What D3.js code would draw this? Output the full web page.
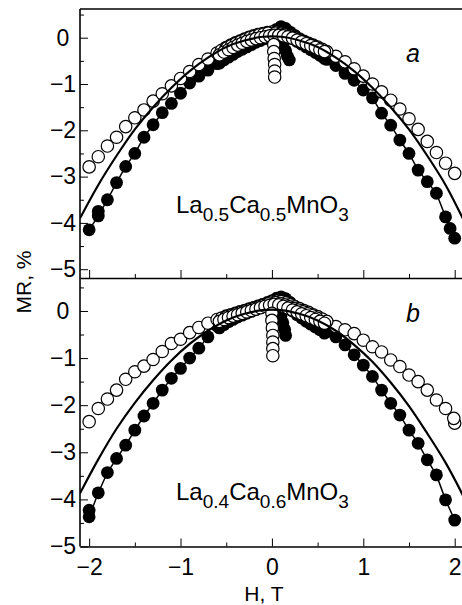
<html>
<head>
<meta charset="utf-8">
<title>MR(H)</title>
<script src="https://cdn.jsdelivr.net/npm/d3@7"></script>
<style>
  body { margin: 0; background: #fff; }
  text { font-family: "Liberation Sans", Arial, sans-serif; }
</style>
</head>
<body>
<script>
// field values, T
const hLeft = [-2.0, -1.9, -1.8, -1.7, -1.6, -1.5, -1.4, -1.3, -1.2, -1.1, -1.0, -0.9, -0.8, -0.7];
const hRight = [0.7, 0.8, 0.9, 1.0, 1.1, 1.2, 1.3, 1.4, 1.5, 1.6, 1.7, 1.8, 1.9, 2.0];
const hInner1 = [-0.6, -0.55, -0.5, -0.45, -0.4, -0.35, -0.3, -0.25, -0.2, -0.15, -0.1, -0.05, 0,
                 0.05, 0.1, 0.15, 0.2, 0.25, 0.3, 0.35, 0.4, 0.45, 0.5, 0.55, 0.6];
const hInner2 = [-0.575, -0.525, -0.475, -0.425, -0.375, -0.325, -0.275, -0.225, -0.175, -0.125, -0.075, -0.025,
                 0.025, 0.075, 0.125, 0.175, 0.225, 0.275, 0.325, 0.375, 0.425, 0.475, 0.525, 0.575];
const hInner3 = [-0.49, -0.44, -0.39, -0.34, -0.29, -0.24, -0.19, -0.14, -0.09, -0.04,
                 0.04, 0.09, 0.14, 0.19, 0.24, 0.29, 0.34, 0.39, 0.44, 0.49];
const hFit = [-2.1, -1.9, -1.7, -1.5, -1.3, -1.1, -0.9, -0.7, -0.5, -0.3, -0.1,
              0.1, 0.3, 0.5, 0.7, 0.9, 1.1, 1.3, 1.5, 1.7, 1.9, 2.1];

// tick labels
const xMajor = [-2, -1, 0, 1, 2];
const xMinor = [-1.5, -0.5, 0.5, 1.5];
const yMajor = [0, -1, -2, -3, -4, -5];
const yMinor = [0.5, -0.5, -1.5, -2.5, -3.5, -4.5];

// panel a, MR %
const aOpenLeft = [-2.79, -2.57, -2.34, -2.15, -1.92, -1.73, -1.56, -1.37, -1.21, -1.04, -0.88, -0.73, -0.58, -0.46];
const aOpenRight = [-0.40, -0.52, -0.67, -0.83, -1.00, -1.17, -1.35, -1.54, -1.75, -1.98, -2.24, -2.48, -2.71, -2.93];
const aOpenInner1 = [-0.33, -0.27, -0.21, -0.16, -0.11, -0.07, -0.03, 0.01, 0.04, 0.07, 0.09, 0.11, 0.12,
                     0.12, 0.10, 0.07, 0.04, 0.0, -0.04, -0.08, -0.12, -0.16, -0.20, -0.25, -0.30];
const aOpenInner2 = [-0.37, -0.31, -0.26, -0.21, -0.16, -0.12, -0.08, -0.05, -0.02, 0.0, 0.02, 0.04,
                     0.05, 0.05, 0.04, 0.02, -0.01, -0.05, -0.09, -0.13, -0.17, -0.21, -0.26, -0.30];
const aOpenInner3 = [-0.22, -0.17, -0.12, -0.08, -0.04, 0.0, 0.03, 0.06, 0.08, 0.10,
                     0.10, 0.08, 0.06, 0.02, -0.02, -0.05, -0.09, -0.13, -0.17, -0.22];
const aOpenDipH = [0.02, 0.02, 0.025, 0.03, 0.03, 0.03];
const aOpenDip = [-0.15, -0.30, -0.45, -0.58, -0.72, -0.85];
const aFullLeft = [-4.15, -3.85, -3.50, -3.13, -2.78, -2.50, -2.15, -1.88, -1.62, -1.42, -1.20, -0.98, -0.83, -0.70];
const aFullRight = [-0.60, -0.77, -0.92, -1.13, -1.30, -1.63, -1.89, -2.21, -2.50, -2.86, -3.11, -3.36, -3.87, -4.33];
const aFullInner1 = [-0.56, -0.49, -0.42, -0.36, -0.30, -0.24, -0.18, -0.13, -0.08, -0.03, 0.02, 0.07, 0.12,
                     0.18, 0.24, 0.20, 0.12, 0.05, -0.02, -0.10, -0.18, -0.26, -0.33, -0.40, -0.47];
const aFullInner2 = [-0.55, -0.48, -0.42, -0.36, -0.30, -0.25, -0.20, -0.15, -0.10, -0.06, -0.02, 0.03,
                     0.09, 0.15, 0.13, 0.06, -0.02, -0.08, -0.14, -0.20, -0.26, -0.32, -0.38, -0.45];
const aFullDipH = [0.12, 0.15, 0.17, 0.19, -1.9, 1.95];
const aFullDip = [-0.15, -0.28, -0.40, -0.48, -3.75, -4.12];
const aFit = [-3.90, -3.18, -2.55, -1.98, -1.50, -1.08, -0.72, -0.43, -0.20, -0.06, 0.02,
              0.02, -0.06, -0.20, -0.43, -0.72, -1.08, -1.50, -1.98, -2.55, -3.18, -3.95];

// panel b, MR %
const bOpenLeft = [-2.35, -2.07, -1.87, -1.68, -1.45, -1.29, -1.17, -1.03, -0.86, -0.69, -0.60, -0.46, -0.35, -0.26];
const bOpenRight = [-0.33, -0.40, -0.48, -0.62, -0.76, -0.87, -1.04, -1.18, -1.36, -1.50, -1.68, -1.89, -2.07, -2.38];
const bOpenInner1 = [-0.18, -0.15, -0.11, -0.08, -0.05, -0.02, 0.01, 0.04, 0.07, 0.10, 0.13, 0.16, 0.19,
                     0.21, 0.20, 0.17, 0.13, 0.09, 0.05, 0.01, -0.03, -0.08, -0.12, -0.17, -0.22];
const bOpenInner2 = [-0.22, -0.18, -0.14, -0.11, -0.08, -0.05, -0.02, 0.01, 0.04, 0.07, 0.10, 0.12,
                     0.14, 0.13, 0.10, 0.06, 0.02, -0.02, -0.06, -0.10, -0.14, -0.18, -0.22, -0.26];
const bOpenInner3 = [-0.12, -0.09, -0.06, -0.03, 0.0, 0.03, 0.06, 0.09, 0.12, 0.15,
                     0.18, 0.16, 0.13, 0.09, 0.05, 0.02, -0.02, -0.06, -0.10, -0.15];
const bOpenDipH = [0.0, 0.0, 0.005, 0.01, 0.01, 0.01, 0.01, 1.99];
const bOpenDip = [-0.05, -0.20, -0.36, -0.52, -0.66, -0.80, -0.95, -2.28];
const bFullLeft = [-4.37, -3.86, -3.43, -3.13, -2.85, -2.53, -2.23, -1.96, -1.68, -1.43, -1.22, -1.00, -0.79, -0.55];
const bFullRight = [-0.55, -0.72, -0.93, -1.15, -1.39, -1.68, -1.96, -2.21, -2.53, -2.81, -3.16, -3.48, -4.01, -4.44];
const bFullInner1 = [-0.32, -0.25, -0.19, -0.14, -0.09, -0.05, -0.01, 0.03, 0.07, 0.10, 0.14, 0.18, 0.22,
                     0.27, 0.30, 0.26, 0.18, 0.10, 0.02, -0.06, -0.14, -0.22, -0.30, -0.37, -0.44];
const bFullInner2 = [-0.36, -0.29, -0.23, -0.18, -0.13, -0.09, -0.05, -0.01, 0.03, 0.07, 0.11, 0.15,
                     0.20, 0.24, 0.20, 0.10, 0.0, -0.08, -0.15, -0.22, -0.28, -0.34, -0.40, -0.47];
const bFullDipH = [0.10, 0.12, 0.14, 0.15, -2.0];
const bFullDip = [-0.10, -0.25, -0.40, -0.52, -4.23];
const bFit = [-3.87, -3.15, -2.50, -1.95, -1.47, -1.05, -0.70, -0.42, -0.20, -0.06, 0.02,
              0.02, -0.06, -0.20, -0.42, -0.72, -1.08, -1.52, -2.02, -2.60, -3.22, -3.95];

const formulaA = ["La", "0.5", "Ca", "0.5", "MnO", "3"];
const formulaB = ["La", "0.4", "Ca", "0.6", "MnO", "3"];

// ---- drawing ----
const w = 462, h = 605;
const svg = d3.select("body").append("svg").attr("width", w).attr("height", h);

const x = d3.scaleLinear().domain([-2.1, 2.08]).range([80, 462]);
const fmt = d3.format("d");

function zip(hs, ms) {
  return hs.map(function (v, i) { return [v, ms[i]]; });
}

function drawPanel(p) {
  const y = d3.scaleLinear().domain(p.yDomain).range([p.bottom, p.top]);
  const g = svg.append("g");

  g.append("clipPath").attr("id", "clip" + p.name)
    .append("rect").attr("x", 80).attr("y", p.top).attr("width", 382).attr("height", p.bottom - p.top);
  const plot = g.append("g").attr("clip-path", "url(#clip" + p.name + ")");

  const line = d3.line().x(d => x(d[0])).y(d => y(d[1]));
  const fitLine = d3.line().x(d => x(d[0])).y(d => y(d[1])).curve(d3.curveCatmullRom);

  // thin line through filled points
  [zip(hLeft, p.fullLeft), zip(hRight, p.fullRight)].forEach(function (pts) {
    plot.append("path").attr("d", line(pts))
      .attr("fill", "none").attr("stroke", "#000").attr("stroke-width", 1.5);
  });

  const full = zip(hLeft, p.fullLeft).concat(zip(hRight, p.fullRight),
    zip(hInner1, p.fullInner1), zip(hInner2, p.fullInner2), zip(p.fullDipH, p.fullDip));
  plot.selectAll("circle.full").data(full).enter().append("circle")
    .attr("class", "full")
    .attr("cx", d => x(d[0])).attr("cy", d => y(d[1])).attr("r", 6.4)
    .attr("fill", "#000");

  const open = zip(hLeft, p.openLeft).concat(zip(hRight, p.openRight),
    zip(hInner1, p.openInner1), zip(hInner3, p.openInner3), zip(hInner2, p.openInner2),
    zip(p.openDipH, p.openDip));
  plot.selectAll("circle.open").data(open).enter().append("circle")
    .attr("class", "open")
    .attr("cx", d => x(d[0])).attr("cy", d => y(d[1])).attr("r", 6.2)
    .attr("fill", "#fff").attr("stroke", "#000").attr("stroke-width", 1.2);

  plot.append("path").attr("d", fitLine(zip(hFit, p.fit)))
    .attr("fill", "none").attr("stroke", "#000").attr("stroke-width", 2.2);

  // y axis
  const yAx = g.append("g").attr("transform", "translate(80,0)")
    .call(d3.axisLeft(y).tickValues(yMajor).tickSize(-8).tickPadding(6).tickFormat(fmt));
  yAx.select(".domain").remove();
  yAx.selectAll("text").attr("font-size", 23).attr("font-family", "Liberation Sans, Arial, sans-serif")
    .attr("text-anchor", "middle").attr("x", -17);
  const yMin = g.append("g").attr("transform", "translate(80,0)")
    .call(d3.axisLeft(y).tickValues(yMinor).tickSize(-4).tickFormat(""));
  yMin.select(".domain").remove();

  // x axis at panel bottom
  const xAx = g.append("g").attr("transform", "translate(0," + p.bottom + ")")
    .call(d3.axisBottom(x).tickValues(xMajor).tickSize(-8).tickSizeOuter(0).tickPadding(12)
      .tickFormat(p.xLabels ? fmt : ""));
  xAx.select(".domain").attr("stroke-width", 1.6);
  xAx.selectAll("text").attr("font-size", 23).attr("font-family", "Liberation Sans, Arial, sans-serif");
  const xMin = g.append("g").attr("transform", "translate(0," + p.bottom + ")")
    .call(d3.axisBottom(x).tickValues(xMinor).tickSize(-4).tickSizeOuter(0).tickFormat(""));
  xMin.select(".domain").remove();

  // formula
  const t = g.append("text").attr("x", p.fx).attr("y", p.fy).attr("font-size", 24);
  p.formula.forEach(function (s, i) {
    const sub = i % 2 === 1;
    t.append("tspan").text(s)
      .attr("font-size", sub ? 19 : 24)
      .attr("dy", sub ? 8 : (i === 0 ? 0 : -8));
  });

  // panel letter
  g.append("text").attr("x", 406).attr("y", p.ly).text(p.letter)
    .attr("font-family", "Liberation Serif, Times New Roman, serif")
    .attr("font-style", "italic").attr("font-size", 25);
}

// frame: top and left
svg.append("line").attr("x1", 80).attr("x2", 462).attr("y1", 9).attr("y2", 9)
  .attr("stroke", "#000").attr("stroke-width", 1.6);
svg.append("line").attr("x1", 80).attr("x2", 80).attr("y1", 9).attr("y2", 546.5)
  .attr("stroke", "#000").attr("stroke-width", 1.6);

drawPanel({
  name: "a", yDomain: [-5.19, 0.62], top: 9, bottom: 278, xLabels: false,
  openLeft: aOpenLeft, openRight: aOpenRight, openInner1: aOpenInner1, openInner2: aOpenInner2,
  openInner3: aOpenInner3, openDipH: aOpenDipH, openDip: aOpenDip,
  fullLeft: aFullLeft, fullRight: aFullRight, fullInner1: aFullInner1, fullInner2: aFullInner2,
  fullDipH: aFullDipH, fullDip: aFullDip,
  fit: aFit, formula: formulaA, fx: 176, fy: 213, letter: "a", ly: 62
});

drawPanel({
  name: "b", yDomain: [-5, 0.7], top: 278, bottom: 546.5, xLabels: true,
  openLeft: bOpenLeft, openRight: bOpenRight, openInner1: bOpenInner1, openInner2: bOpenInner2,
  openInner3: bOpenInner3, openDipH: bOpenDipH, openDip: bOpenDip,
  fullLeft: bFullLeft, fullRight: bFullRight, fullInner1: bFullInner1, fullInner2: bFullInner2,
  fullDipH: bFullDipH, fullDip: bFullDip,
  fit: bFit, formula: formulaB, fx: 176, fy: 500, letter: "b", ly: 322
});

// axis titles
svg.append("text").attr("x", 264).attr("y", 601).attr("text-anchor", "middle")
  .attr("font-size", 21).text("H, T");
svg.append("text").attr("transform", "translate(31,282) rotate(-90)").attr("text-anchor", "middle")
  .attr("font-size", 21).text("MR, %");
</script>
</body>
</html>
